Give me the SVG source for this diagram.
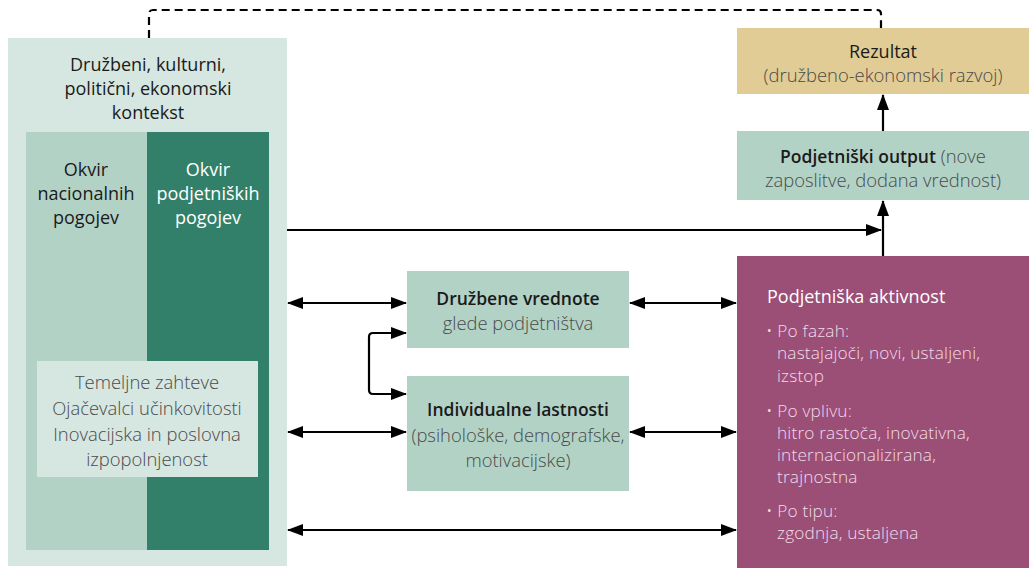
<svg xmlns="http://www.w3.org/2000/svg" width="1029" height="568" viewBox="0 0 1029 568">
<defs>
<marker id="ah" markerUnits="userSpaceOnUse" markerWidth="16" markerHeight="14" refX="15" refY="7" orient="auto-start-reverse" viewBox="0 0 16 14">
<path d="M0,1 L16,7 L0,13 Z" fill="#000"/>
</marker>
<style>
text{font-family:"Open Sans","Noto Sans",sans-serif;font-size:18px;text-anchor:middle}
.dk{fill:#1a1a1a}
.gr{fill:#4a4a4a;font-weight:300;font-size:18.4px}
.b{font-weight:600;font-size:17.5px}
.wt{fill:#ffffff}
.pk{fill:#f2dbe7;font-weight:300;font-size:17.2px;letter-spacing:0.2px}
.l{text-anchor:start}
.c{fill:none;stroke:#000;stroke-width:2.2}
</style>
</defs>
<rect width="1029" height="568" fill="#fff"/>
<g id="kontekst">
<rect x="8" y="38" width="279" height="528" fill="#d6e6e0"/>
<text class="dk" x="148" y="71">Družbeni, kulturni,</text>
<text class="dk" x="148" y="95">politični, ekonomski</text>
<text class="dk" x="148" y="119">kontekst</text>
</g>
<g id="okvir-nacionalnih">
<rect x="26" y="132" width="122" height="418" fill="#b2d2c6"/>
<text class="dk" x="86" y="176">Okvir</text>
<text class="dk" x="86" y="200">nacionalnih</text>
<text class="dk" x="86" y="224">pogojev</text>
</g>
<g id="okvir-podjetniskih">
<rect x="147" y="132" width="122" height="418" fill="#33806a"/>
<text class="wt" x="208" y="176" fill="#e6f0ec">Okvir</text>
<text class="wt" x="208" y="200">podjetniških</text>
<text class="wt" x="208" y="224">pogojev</text>
</g>
<g id="temeljne">
<rect x="37" y="361" width="221" height="116" fill="#d6e6e0"/>
<text class="gr" x="147" y="389">Temeljne zahteve</text>
<text class="gr" x="147" y="415">Ojačevalci učinkovitosti</text>
<text class="gr" x="147" y="441">Inovacijska in poslovna</text>
<text class="gr" x="147" y="466">izpopolnjenost</text>
</g>
<g id="druzbene-vrednote">
<rect x="407" y="271" width="222" height="77" fill="#b2d2c6"/>
<text class="dk b" x="518" y="305">Družbene vrednote</text>
<text class="gr" x="518" y="330">glede podjetništva</text>
</g>
<g id="individualne">
<rect x="407" y="376" width="222" height="115" fill="#b2d2c6"/>
<text class="dk b" x="518" y="416">Individualne lastnosti</text>
<text class="gr" x="518" y="442">(psihološke, demografske,</text>
<text class="gr" x="518" y="467">motivacijske)</text>
</g>
<g id="rezultat">
<rect x="737" y="28" width="292" height="66" fill="#e0cc94"/>
<text class="dk" x="883" y="58">Rezultat</text>
<text class="gr" x="883" y="82">(družbeno-ekonomski razvoj)</text>
</g>
<g id="output">
<rect x="737" y="131" width="292" height="69" fill="#b2d2c6"/>
<text x="883" y="163"><tspan class="dk b">Podjetniški output</tspan><tspan class="gr"> (nove</tspan></text>
<text class="gr" x="883" y="187">zaposlitve, dodana vrednost)</text>
</g>
<g id="aktivnost">
<rect x="737" y="256" width="292" height="312" fill="#9b4f77"/>
<text class="wt l" x="767" y="303">Podjetniška aktivnost</text>
<text class="pk l" x="766" y="337">• Po fazah:</text>
<text class="pk l" x="777" y="359">nastajajoči, novi, ustaljeni,</text>
<text class="pk l" x="777" y="382">izstop</text>
<text class="pk l" x="766" y="417">• Po vplivu:</text>
<text class="pk l" x="777" y="439">hitro rastoča, inovativna,</text>
<text class="pk l" x="777" y="461">internacionalizirana,</text>
<text class="pk l" x="777" y="483">trajnostna</text>
<text class="pk l" x="766" y="517">• Po tipu:</text>
<text class="pk l" x="777" y="539">zgodnja, ustaljena</text>
</g>
<g id="connectors">
<path class="c" d="M149,38 V14 Q149,10 153,10 H877 Q881,10 881,14 V28" stroke-dasharray="8,5"/>
<path class="c" d="M883,131 V95" marker-end="url(#ah)"/>
<path class="c" d="M883,256 V201" marker-end="url(#ah)"/>
<path class="c" d="M287,230 H881" marker-end="url(#ah)"/>
<path class="c" d="M288,303 H406" marker-start="url(#ah)" marker-end="url(#ah)"/>
<path class="c" d="M630,303 H736" marker-start="url(#ah)" marker-end="url(#ah)"/>
<path class="c" d="M288,432 H406" marker-start="url(#ah)" marker-end="url(#ah)"/>
<path class="c" d="M630,432 H736" marker-start="url(#ah)" marker-end="url(#ah)"/>
<path class="c" d="M288,530 H736" marker-start="url(#ah)" marker-end="url(#ah)"/>
<path class="c" d="M406,333 H373 Q369,333 369,337 V390 Q369,394 373,394 H406" marker-start="url(#ah)" marker-end="url(#ah)"/>
</g>
</svg>
